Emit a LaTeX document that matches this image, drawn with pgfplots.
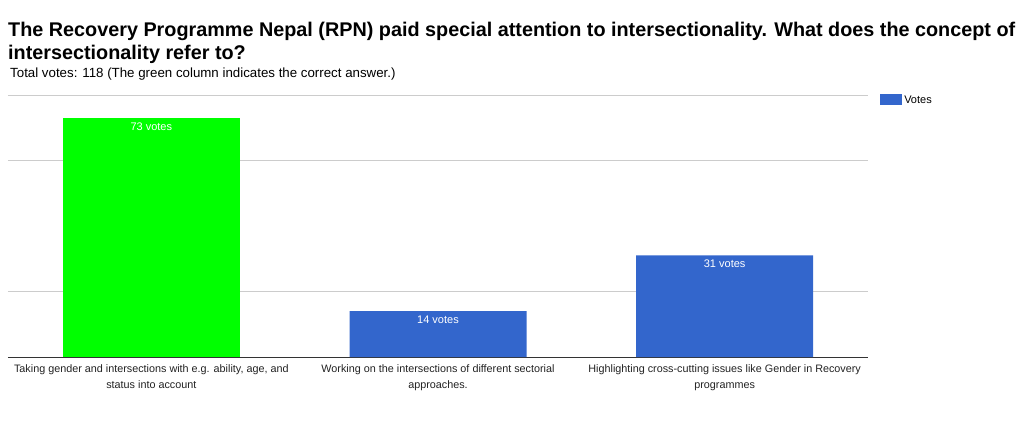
\documentclass[border=0pt]{standalone}
\usepackage{fontspec}
\setmainfont{Liberation Sans}
\usepackage{pgfplots}
\pgfplotsset{compat=1.18}
\definecolor{barblue}{HTML}{3366CC}
\definecolor{bargreen}{HTML}{00FF00}
\definecolor{gridgray}{HTML}{CCCCCC}
\definecolor{labelgray}{HTML}{222222}
\begin{document}
\begin{tikzpicture}
\path[use as bounding box] (-8pt,-90pt) rectangle (1016pt,357pt);
\begin{axis}[
    at={(0pt,0pt)}, anchor=south west,
    scale only axis,
    width=860pt, height=262pt,
    xmin=-0.5, xmax=2.5, ymin=0, ymax=80,
    ytick={20,60,80}, yticklabels={},
    ymajorgrids, grid style={gridgray, line width=0.8pt},
    axis x line*=bottom, axis y line*=left,
    y axis line style={draw=none},
    x axis line style={draw=black!80, line width=0.8pt, -},
    major tick length=0pt,
    xtick={0,1,2},
    xticklabels={{Taking gender and intersections with e.g. ability, age, and\\status into account},
                 {Working on the intersections of different sectorial\\approaches.},
                 {Highlighting cross-cutting issues like Gender in Recovery\\programmes}},
    xticklabel style={align=center, font=\fontsize{10.8}{16}\selectfont, text=labelgray, yshift=-4pt},
    ybar, bar width=177pt,
    point meta=y,
    /pgf/number format/assume math mode=true,
    nodes near coords={\pgfmathprintnumber{\pgfplotspointmeta} votes},
    every node near coord/.append style={anchor=north, text=white, font=\fontsize{11}{13}\selectfont, yshift=-1pt},
    legend style={at={(1.014,0.981)}, anchor=west, draw=none, fill=none,
        font=\fontsize{11}{13}\selectfont, inner sep=0pt},
    legend image code/.code={\fill[#1] (0pt,-5.5pt) rectangle (22pt,5.5pt);},
]
\addplot[fill=bargreen, draw=none, bar shift=0pt, forget plot] coordinates {(0,73)};
\addplot[fill=barblue, draw=none, bar shift=0pt] coordinates {(1,14) (2,31)};
\addlegendentry{Votes}
\end{axis}
\node[anchor=base west, inner sep=0pt, font=\fontsize{19.8}{21}\selectfont\bfseries] at (0pt,320pt)
  {The Recovery Programme Nepal (RPN) paid special attention to intersectionality. What does the concept of};
\node[anchor=base west, inner sep=0pt, font=\fontsize{19.8}{21}\selectfont\bfseries] at (0pt,297pt)
  {intersectionality refer to?};
\node[anchor=base west, inner sep=0pt, font=\fontsize{13.3}{14}\selectfont] at (2pt,279pt)
  {Total votes: 118 (The green column indicates the correct answer.)};
\end{tikzpicture}
\end{document}
